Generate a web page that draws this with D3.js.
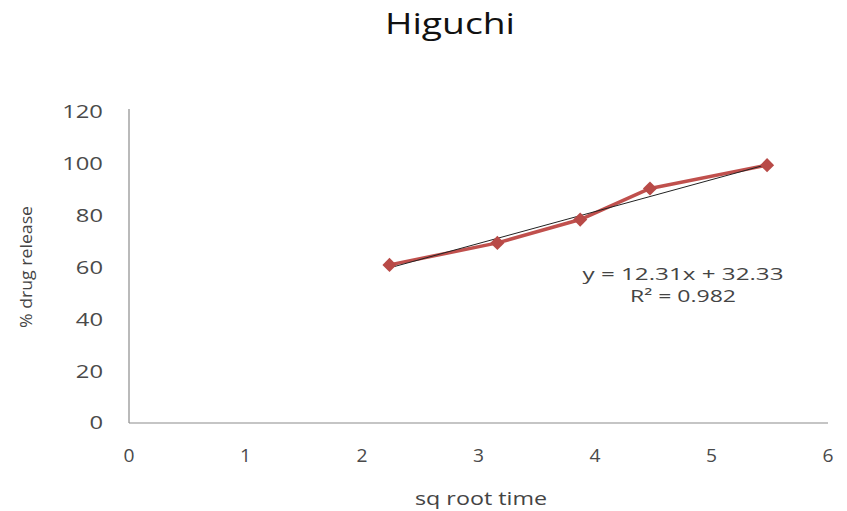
<!DOCTYPE html>
<html><head><meta charset="utf-8">
<script src="https://cdn.jsdelivr.net/npm/d3@7"></script>
<style>body{margin:0;background:#fff}svg{display:block}text{font-family:"Open Sans",sans-serif}</style>
</head><body><svg id="c" width="847" height="511"></svg>
<script>
const sqrtTime = [2.236, 3.162, 3.873, 4.472, 5.477];
const release = [61.0, 69.5, 78.5, 90.5, 99.5];
const xTicks = [0, 1, 2, 3, 4, 5, 6];
const yTicks = [0, 20, 40, 60, 80, 100, 120];
const trendSlope = 12.31, trendIntercept = 32.33;
const eqLines = ["y = 12.31x + 32.33", "R\u00B2 = 0.982"];

const svg = d3.select("#c");
const x = d3.scaleLinear().domain([0, 6]).range([129, 828]);
const y = d3.scaleLinear().domain([0, 120]).range([423, 112]);

svg.append("text").attr("x", 450).attr("y", 34).attr("text-anchor", "middle")
  .attr("font-size", 29).attr("fill", "#111")
  .attr("textLength", 130).attr("lengthAdjust", "spacingAndGlyphs").text("Higuchi");

// axes lines
svg.append("line").attr("x1", x(0)).attr("x2", x(0)).attr("y1", 109).attr("y2", y(0)).attr("stroke", "#8c8c8c").attr("stroke-width", 1.2);
svg.append("line").attr("x1", x(0)).attr("x2", x(6)).attr("y1", y(0)).attr("y2", y(0)).attr("stroke", "#8c8c8c").attr("stroke-width", 1.2);

svg.append("g").selectAll("text").data(yTicks).join("text")
  .attr("x", 103).attr("y", d => y(d)).attr("dy", "0.36em").attr("text-anchor", "end")
  .attr("font-size", 18).attr("fill", "#4a4a4a")
  .attr("textLength", d => String(d).length * 13.6).attr("lengthAdjust", "spacingAndGlyphs").text(d => d);
svg.append("g").selectAll("text").data(xTicks).join("text")
  .attr("x", d => x(d)).attr("y", 462).attr("text-anchor", "middle")
  .attr("font-size", 18).attr("fill", "#4a4a4a")
  .attr("textLength", 11).attr("lengthAdjust", "spacingAndGlyphs").text(d => d);

svg.append("text").attr("transform", "translate(32,267) rotate(-90)").attr("text-anchor", "middle")
  .attr("font-size", 16).attr("fill", "#444")
  .attr("textLength", 122).attr("lengthAdjust", "spacingAndGlyphs").text("% drug release");
svg.append("text").attr("x", 481).attr("y", 505).attr("text-anchor", "middle")
  .attr("font-size", 19).attr("fill", "#444")
  .attr("textLength", 132).attr("lengthAdjust", "spacingAndGlyphs").text("sq root time");

const data = sqrtTime.map((v, i) => [v, release[i]]);
svg.append("path").datum(data)
  .attr("d", d3.line().x(d => x(d[0])).y(d => y(d[1])))
  .attr("fill", "none").attr("stroke", "#c0504d").attr("stroke-width", 3.5).attr("stroke-linejoin", "round");

const tx = d3.extent(sqrtTime);
svg.append("line").attr("x1", x(tx[0])).attr("y1", y(trendSlope * tx[0] + trendIntercept))
  .attr("x2", x(tx[1])).attr("y2", y(trendSlope * tx[1] + trendIntercept))
  .attr("stroke", "#222").attr("stroke-width", 1);

svg.append("g").selectAll("path").data(data).join("path")
  .attr("transform", d => `translate(${x(d[0])},${y(d[1])}) rotate(45)`)
  .attr("d", d3.symbol(d3.symbolSquare, 100)).attr("fill", "#b84a47");

const eqW = [201, 106];
svg.append("g").selectAll("text").data(eqLines).join("text")
  .attr("x", 683).attr("y", (d, i) => 280 + i * 22).attr("text-anchor", "middle")
  .attr("font-size", 17).attr("fill", "#444")
  .attr("textLength", (d, i) => eqW[i]).attr("lengthAdjust", "spacingAndGlyphs").text(d => d);
</script></body></html>
